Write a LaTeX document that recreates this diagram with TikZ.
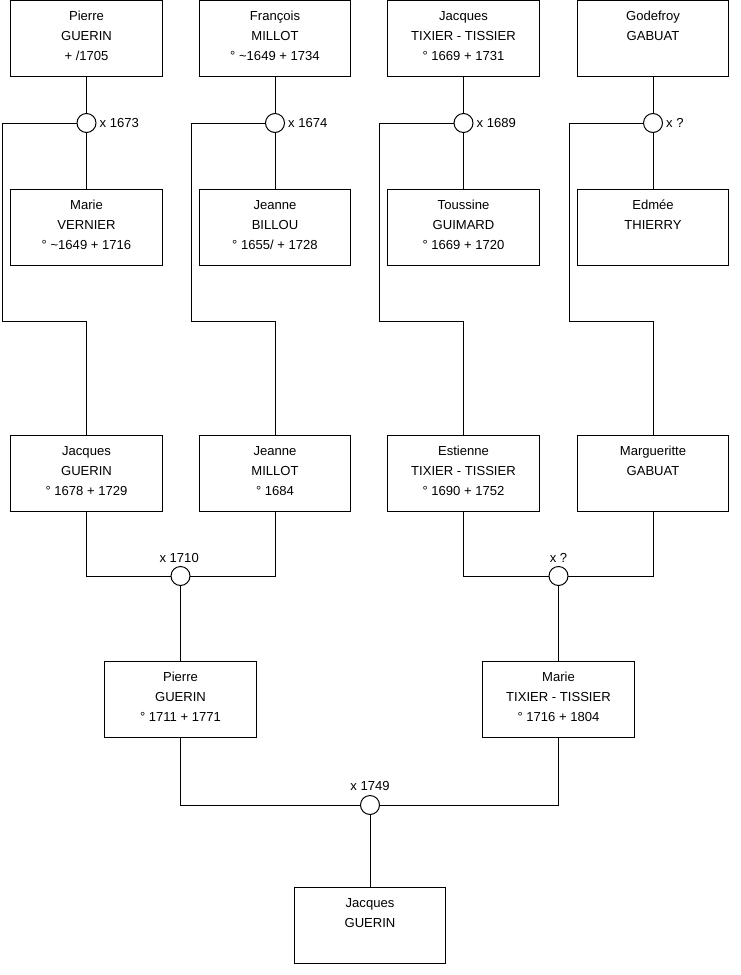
\documentclass[tikz,border=0pt]{standalone}
\usepackage{fontspec}
\setmainfont{Liberation Sans}
\newcommand\ptxt[1]{\parbox[c][57pt][t]{113pt}{\fontsize{9.8pt}{15pt}\selectfont\centering\rule{0pt}{15pt}#1\par}}
\begin{document}
\begin{tikzpicture}[x=0.75pt,y=-0.75pt,
  box/.style={draw, line width=0.75pt, minimum width=113.6pt, minimum height=57pt, inner sep=0pt, outer sep=0pt},
  wed/.style={draw, circle, fill=white, line width=0.75pt, minimum size=14.25pt, inner sep=0pt, outer sep=0pt},
  lbl/.style={font=\fontsize{9.8pt}{11pt}\selectfont, inner sep=0pt},
  conn/.style={line width=0.75pt}]
\useasboundingbox (0,0) rectangle (740,975);
% row 1
\node[box] (p1) at (86.5,38.5) {\ptxt{Pierre\\GUERIN\\+ /1705}};
\node[box] (p2) at (275,38.5) {\ptxt{François\\MILLOT\\° \textasciitilde1649 + 1734}};
\node[box] (p3) at (463.5,38.5) {\ptxt{Jacques\\TIXIER - TISSIER\\° 1669 + 1731}};
\node[box] (p4) at (653,38.5) {\ptxt{Godefroy\\GABUAT}};
% row 2
\node[box] (q1) at (86.5,227) {\ptxt{Marie\\VERNIER\\° \textasciitilde1649 + 1716}};
\node[box] (q2) at (275,227) {\ptxt{Jeanne\\BILLOU\\° 1655/ + 1728}};
\node[box] (q3) at (463.5,227) {\ptxt{Toussine\\GUIMARD\\° 1669 + 1720}};
\node[box] (q4) at (653,227) {\ptxt{Edmée\\THIERRY}};
% row 3
\node[box] (r1) at (86.5,473) {\ptxt{Jacques\\GUERIN\\° 1678 + 1729}};
\node[box] (r2) at (275,473) {\ptxt{Jeanne\\MILLOT\\° 1684}};
\node[box] (r3) at (463.5,473) {\ptxt{Estienne\\TIXIER - TISSIER\\° 1690 + 1752}};
\node[box] (r4) at (653,473) {\ptxt{Margueritte\\GABUAT}};
% row 4
\node[box] (s1) at (180.5,699) {\ptxt{Pierre\\GUERIN\\° 1711 + 1771}};
\node[box] (s2) at (558.5,699) {\ptxt{Marie\\TIXIER - TISSIER\\° 1716 + 1804}};
% row 5
\node[box] (t1) at (370,925) {\ptxt{Jacques\\GUERIN}};
% wedding circles
\node[wed] (c1) at (86.5,123) {};
\node[wed] (c2) at (275,123) {};
\node[wed] (c3) at (463.5,123) {};
\node[wed] (c4) at (653,123) {};
\node[wed] (m1) at (180.5,576) {};
\node[wed] (m2) at (558.5,576) {};
\node[wed] (m3) at (370,805) {};
% labels
\node[lbl, anchor=west, xshift=2.6pt] (l1) at (c1.east) {x 1673};
\node[lbl, anchor=west, xshift=2.6pt] (l2) at (c2.east) {x 1674};
\node[lbl, anchor=west, xshift=2.6pt] (l3) at (c3.east) {x 1689};
\node[lbl, anchor=west, xshift=2.6pt] (l4) at (c4.east) {x ?};
\node[lbl, anchor=south, yshift=2.6pt, xshift=-1pt] (l5) at (m1.north) {x 1710};
\node[lbl, anchor=south, yshift=2.6pt] (l6) at (m2.north) {x ?};
\node[lbl, anchor=south, yshift=3.5pt] (l7) at (m3.north) {x 1749};
% corner coordinates
\coordinate (k1) at (2,321);
\coordinate (k2) at (191,321);
\coordinate (k3) at (379,321);
\coordinate (k4) at (569,321);
% connectors
\draw[conn] (p1) -- (c1) -- (q1);
\draw[conn] (p2) -- (c2) -- (q2);
\draw[conn] (p3) -- (c3) -- (q3);
\draw[conn] (p4) -- (c4) -- (q4);
\draw[conn] (c1) -| (k1) -| (r1.north);
\draw[conn] (c2) -| (k2) -| (r2.north);
\draw[conn] (c3) -| (k3) -| (r3.north);
\draw[conn] (c4) -| (k4) -| (r4.north);
\draw[conn] (r1.south) |- (m1);
\draw[conn] (r2.south) |- (m1);
\draw[conn] (r3.south) |- (m2);
\draw[conn] (r4.south) |- (m2);
\draw[conn] (m1) -- (s1);
\draw[conn] (m2) -- (s2);
\draw[conn] (s1.south) |- (m3);
\draw[conn] (s2.south) |- (m3);
\draw[conn] (m3) -- (t1);
\end{tikzpicture}
\end{document}
